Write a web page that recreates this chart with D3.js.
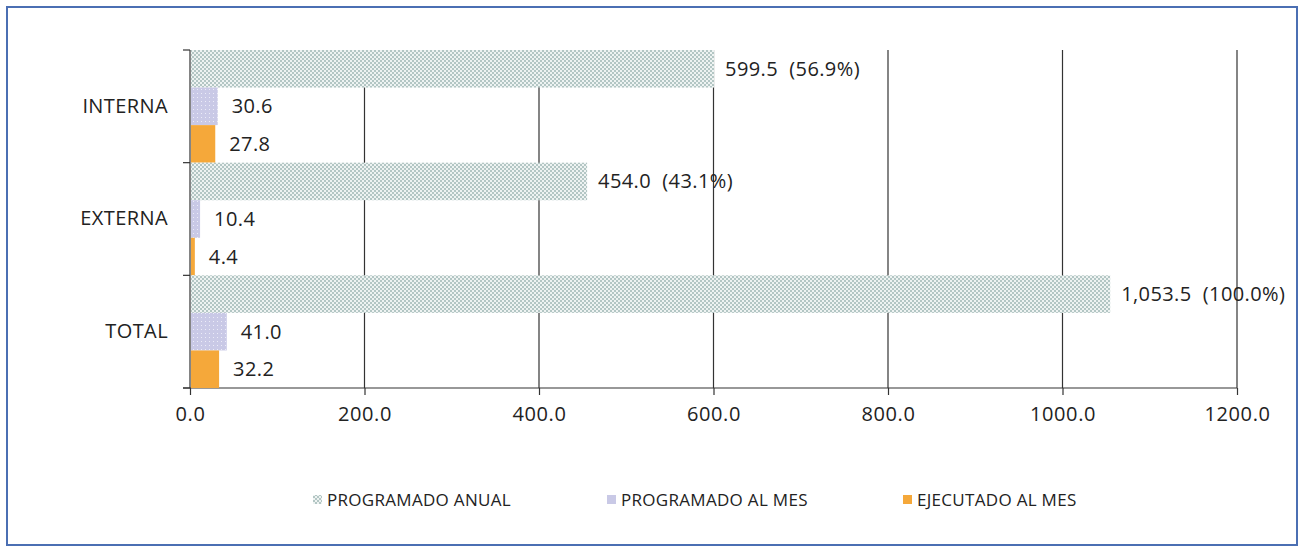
<!DOCTYPE html>
<html lang="es">
<head>
    <meta charset="UTF-8">
    <title>Programado vs Ejecutado</title>
    <script src="https://cdn.jsdelivr.net/npm/d3@7/dist/d3.min.js"></script>
    <style>
        body { margin: 0; background: #fff; }
        text { font-family: "Open Sans", sans-serif; fill: #222; white-space: pre; }
    </style>
</head>
<body>
<div id="main"></div>
<script>
    // datos del grafico
    const categorias = ['INTERNA', 'EXTERNA', 'TOTAL'];
    const series = ['PROGRAMADO ANUAL', 'PROGRAMADO AL MES', 'EJECUTADO AL MES'];
    const programadoAnual = [599.5, 454.0, 1053.5];
    const porcentajeAnual = ['56.9%', '43.1%', '100.0%'];
    const programadoMes = [30.6, 10.4, 41.0];
    const ejecutadoMes = [27.8, 4.4, 32.2];
    const ticksX = [0, 200, 400, 600, 800, 1000, 1200];

    const W = 1302, H = 548;
    const margin = {top: 50, left: 190, right: 65, bottom: 160};

    const svg = d3.select('#main').append('svg')
        .attr('width', W).attr('height', H);

    // patrones de relleno
    const defs = svg.append('defs');
    const pAnual = defs.append('pattern').attr('id', 'pAnual')
        .attr('width', 4).attr('height', 4).attr('patternUnits', 'userSpaceOnUse');
    pAnual.append('rect').attr('width', 4).attr('height', 4).attr('fill', '#eef3f2');
    pAnual.append('rect').attr('width', 2).attr('height', 2).attr('fill', '#b3c6c4');
    pAnual.append('rect').attr('x', 2).attr('y', 2).attr('width', 2).attr('height', 2).attr('fill', '#b3c6c4');

    const pMes = defs.append('pattern').attr('id', 'pMes')
        .attr('width', 4).attr('height', 4).attr('patternUnits', 'userSpaceOnUse');
    pMes.append('rect').attr('width', 4).attr('height', 4).attr('fill', '#c9c9e6');
    pMes.append('rect').attr('x', 1).attr('y', 1).attr('width', 1).attr('height', 1).attr('fill', '#ececf8');

    const colores = ['url(#pAnual)', 'url(#pMes)', '#f5a83a'];
    const colorLeyenda = ['url(#pAnual)', '#c9c9e6', '#f5a83a'];

    // marco exterior
    svg.append('rect')
        .attr('x', 7).attr('y', 7).attr('width', W - 12).attr('height', H - 10)
        .attr('fill', 'none').attr('stroke', '#4b6fb3').attr('stroke-width', 2);

    const x = d3.scaleLinear().domain([0, 1200]).range([margin.left, W - margin.right]);
    const y = d3.scaleBand().domain(categorias).range([margin.top, H - margin.bottom]);
    const ySub = d3.scaleBand().domain(series).range([0, y.bandwidth()]);

    // lineas de cuadricula
    svg.append('g').selectAll('line')
        .data(ticksX.slice(1))
        .join('line')
        .attr('x1', d => x(d)).attr('x2', d => x(d))
        .attr('y1', margin.top).attr('y2', H - margin.bottom)
        .attr('stroke', '#333').attr('stroke-width', 1.2);

    // eje x
    const ejeX = svg.append('g')
        .attr('transform', `translate(0,${H - margin.bottom})`)
        .call(d3.axisBottom(x).tickValues(ticksX).tickFormat(d3.format('.1f')).tickSize(7).tickPadding(12));
    ejeX.select('.domain').attr('stroke', '#333').attr('stroke-width', 1.2)
        .attr('d', `M${margin.left - 7},0H${x(1200)}`);
    ejeX.selectAll('.tick line').attr('stroke', '#333').attr('stroke-width', 1.2);
    ejeX.selectAll('.tick text').style('font-size', '20px').style('letter-spacing', '0.6px').attr('fill', '#222');

    // eje y
    const ejeY = svg.append('g')
        .attr('transform', `translate(${margin.left},0)`)
        .call(d3.axisLeft(y).tickSize(0).tickPadding(22));
    ejeY.select('.domain').attr('stroke', '#333').attr('stroke-width', 1.2)
        .attr('d', `M0,${margin.top}V${H - margin.bottom}`);
    ejeY.selectAll('.tick text').style('font-size', '20px').style('letter-spacing', '0.4px').attr('fill', '#222');
    ejeY.append('g').selectAll('line')
        .data(d3.range(categorias.length + 1))
        .join('line')
        .attr('x1', -7).attr('x2', 0)
        .attr('y1', i => margin.top + i * y.step()).attr('y2', i => margin.top + i * y.step())
        .attr('stroke', '#333').attr('stroke-width', 1.2);

    // barras
    const valores = [programadoAnual, programadoMes, ejecutadoMes];
    const filas = [];
    categorias.forEach((c, i) => {
        series.forEach((s, j) => {
            filas.push({cat: c, serie: s, j, valor: valores[j][i],
                etiqueta: j === 0 ? `${d3.format(',.1f')(valores[j][i])}  (${porcentajeAnual[i]})` : d3.format('.1f')(valores[j][i])});
        });
    });

    const barras = svg.append('g');
    barras.selectAll('rect')
        .data(filas)
        .join('rect')
        .attr('x', x(0) + 1)
        .attr('y', d => y(d.cat) + ySub(d.serie))
        .attr('width', d => x(d.valor) - x(0))
        .attr('height', ySub.bandwidth())
        .attr('fill', d => colores[d.j]);

    barras.selectAll('text')
        .data(filas)
        .join('text')
        .attr('x', d => x(d.valor) + (d.j === 0 ? 12 : 15))
        .attr('y', d => y(d.cat) + ySub(d.serie) + ySub.bandwidth() / 2)
        .attr('dy', '0.35em')
        .style('font-size', '20px')
        .style('letter-spacing', '0.4px')
        .text(d => d.etiqueta);

    // leyenda
    const leyendaX = [313, 607, 903];
    const leyenda = svg.append('g').selectAll('g')
        .data(series)
        .join('g')
        .attr('transform', (d, i) => `translate(${leyendaX[i]},500)`);
    leyenda.append('rect')
        .attr('x', 0).attr('y', -5).attr('width', 9).attr('height', 9)
        .attr('fill', (d, i) => colorLeyenda[i]);
    leyenda.append('text')
        .attr('x', 14).attr('dy', '0.35em')
        .style('font-size', '17px').style('letter-spacing', '0.3px').attr('fill', '#333')
        .text(d => d);
</script>
</body>
</html>
